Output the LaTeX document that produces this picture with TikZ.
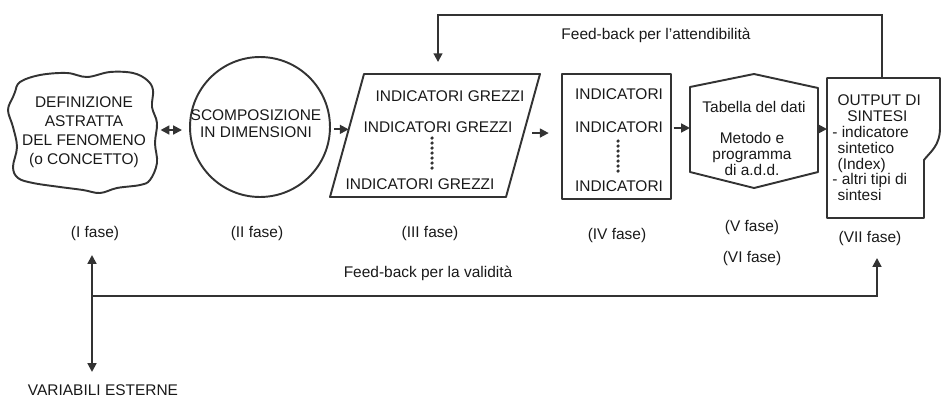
\documentclass[tikz,border=0pt]{standalone}
\usepackage{fontspec}
\setmainfont{Liberation Sans}
\usetikzlibrary{arrows.meta,calc}
\tikzset{
  outline/.style={draw=black!80, line width=1.1pt, line join=round},
  boxtext/.style={font=\fontsize{8.8}{10.8}\selectfont, text=black!90, align=center, inner sep=0pt},
  fase/.style={font=\fontsize{8.8}{10}\selectfont, text=black!90, inner sep=0pt},
  link/.style={draw=black!80, line width=1.1pt, arrows={-Triangle[length=5pt,width=5pt]}},
  twolink/.style={draw=black!80, line width=1.1pt, arrows={Triangle[length=5pt,width=5pt]-Triangle[length=5pt,width=5pt]}},
  dotmark/.style={fill=black!80},
}

\begin{document}
\begin{tikzpicture}[x=0.02cm, y=-0.02cm]
\useasboundingbox (0,0) rectangle (943,396);
% I fase
\draw[outline] plot[smooth cycle, tension=0.6] coordinates {
  (15,92) (20,82) (40,75) (67,73) (87,77) (110,72) (133,73) (147,80) (153,90)
  (152,107) (157,123) (155,143) (157,163) (150,180) (140,185) (117,188)
  (100,193) (83,190) (60,187) (33,183) (18,178) (13,167) (17,147) (13,127)
  (8,110) (13,97)};
\node[boxtext] (def) at (84,132) {DEFINIZIONE\\ASTRATTA\\DEL FENOMENO\\(o CONCETTO)};
\coordinate (defE) at (157,130);
% II fase
\node[outline, circle, minimum size=2.8cm, inner sep=0pt] (circ) at (260,127) {};
\node[boxtext, font=\fontsize{8.8}{9.7}\selectfont] (scomp) at (256,124) {SCOMPOSIZIONE\\IN DIMENSIONI};
% III fase
\coordinate (pNW) at (364,74);
\coordinate (pNE) at (540,74);
\coordinate (pSE) at (506,197);
\coordinate (pSW) at (330,197);
\coordinate (paraIn) at ($(pNW)!0.45!(pSW)$);
\coordinate (paraOut) at ($(pNE)!0.48!(pSE)$);
\coordinate (paraN) at (438,74);
\draw[outline] (pNW) -- (pNE) -- (pSE) -- (pSW) -- cycle;
\node[boxtext] (grezzi1) at (450,96) {INDICATORI GREZZI};
\node[boxtext] (grezzi2) at (438,127) {INDICATORI GREZZI};
\node[boxtext] (grezzi3) at (420,184) {INDICATORI GREZZI};
\foreach \k in {0,...,6}
  \fill[dotmark] (432,138+5*\k) circle (1pt);
% IV fase
\node[outline, minimum width=2.18cm, minimum height=2.5cm, inner sep=0pt] (ind) at (616.5,136.5) {};
\node[boxtext] (ind1) at (619,94) {INDICATORI};
\node[boxtext] (ind2) at (619,127) {INDICATORI};
\node[boxtext] (ind3) at (619,186) {INDICATORI};
\foreach \k in {0,...,6}
  \fill[dotmark] (618,141+5*\k) circle (1pt);
% V-VI fase
\draw[outline] (690,87) -- (754,74) -- (818,88) -- (818,172) -- (754,188) -- (690,172) -- cycle;
\coordinate (hexW) at (690,128);
\coordinate (hexE) at (818,129);
\node[boxtext] (tab) at (754,107) {Tabella del dati};
\node[boxtext, font=\fontsize{8.8}{9.2}\selectfont] (met) at (752,154) {Metodo e\\programma\\di a.d.d.};
% VII fase
\draw[outline] (827,78) -- (940,78) -- (940,128) .. controls (940,146) and (930,152) .. (924,160) -- (924,218) -- (827,218) -- cycle;
\coordinate (outW) at (827,129);
\coordinate (outN) at (882,78);
\node[boxtext, align=left, anchor=west, font=\fontsize{8.8}{9}\selectfont] (out) at (832,148)
  {\hspace*{3pt}OUTPUT DI\\\hspace*{8.5pt}SINTESI\\- indicatore\\\hspace*{3pt}sintetico\\\hspace*{3pt}(Index)\\- altri tipi di\\\hspace*{3pt}sintesi};
% connettori
\draw[twolink, shorten <=2pt, shorten >=4pt] (defE) -- (defE -| circ.west);
\draw[link, shorten <=2pt] (paraIn -| circ.east) -- (paraIn);
\draw[link, shorten <=5pt, shorten >=7pt] (paraOut) -- (paraOut -| ind.west);
\draw[link, shorten <=1pt] (hexW -| ind.east) -- (hexW);
\draw[link, shorten <=1pt] (hexE) -- (outW);
% feed-back
\draw[link, shorten >=6.8pt] (outN) -- ++(0,-63) -| (paraN);
\node[fase] (fbatt) at (656,35) {Feed-back per l'attendibilità};
\coordinate (vTop) at (92,255);
\coordinate (vMid) at (92,296);
\coordinate (vBot) at (92,372);
\coordinate (f7S) at (877,258);
\draw[twolink] (vTop) -- (vBot);
\draw[link] (vMid) -| (f7S);
\node[fase] (fbval) at (428,273) {Feed-back per la validità};
\node[fase] (varest) at (103,390) {VARIABILI ESTERNE};
% fasi
\node[fase] (f1) at (95,233) {(I fase)};
\node[fase] (f2) at (257,233) {(II fase)};
\node[fase] (f3) at (430,233) {(III fase)};
\node[fase] (f4) at (617,235) {(IV fase)};
\node[fase] (f5) at (752,227) {(V fase)};
\node[fase] (f6) at (752,258) {(VI fase)};
\node[fase] (f7) at (870,238) {(VII fase)};
\end{tikzpicture}
\end{document}
